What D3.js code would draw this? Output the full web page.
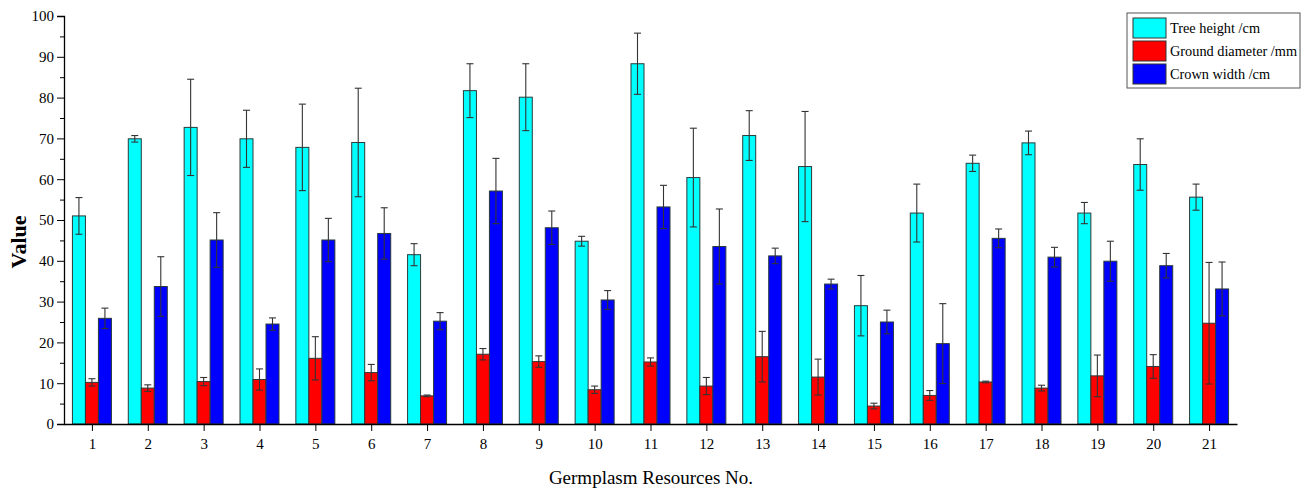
<!DOCTYPE html>
<html>
<head>
<meta charset="utf-8">
<script src="https://cdn.jsdelivr.net/npm/d3@7"></script>
<style>
  body { margin: 0; background: #fff; }
</style>
</head>
<body>
<script>
var width = 1314, height = 494;
var serif = "'Liberation Serif', 'Times New Roman', serif";

// germplasm numbers
var groups = d3.range(1, 22);
var seriesNames = ["Tree height /cm", "Ground diameter /mm", "Crown width /cm"];
var seriesColors = ["#00ffff", "#ff0000", "#0000ff"];

// means
var treeHeight = [51.0, 69.9, 72.7, 69.9, 67.8, 69.0, 41.5, 81.7, 80.1, 44.8, 88.3,
                  60.4, 70.7, 63.1, 29.0, 51.7, 63.9, 68.9, 51.7, 63.6, 55.6];
var groundDiameter = [10.2, 8.8, 10.4, 10.9, 16.1, 12.6, 6.9, 17.1, 15.3, 8.4, 15.2,
                      9.3, 16.5, 11.5, 4.4, 7.0, 10.3, 8.8, 11.8, 14.1, 24.7];
var crownWidth = [25.9, 33.7, 45.1, 24.5, 45.1, 46.7, 25.2, 57.1, 48.1, 30.4, 53.2,
                  43.5, 41.2, 34.3, 25.0, 19.7, 45.5, 40.9, 39.9, 38.8, 33.1];

// standard deviations (error bars)
var treeHeightSd = [4.5, 0.8, 11.8, 7.0, 10.6, 13.3, 2.7, 6.6, 8.2, 1.2, 7.5,
                    12.1, 6.1, 13.5, 7.4, 7.1, 2.0, 2.9, 2.6, 6.3, 3.2];
var groundDiameterSd = [0.9, 0.8, 1.0, 2.6, 5.3, 2.0, 0.2, 1.4, 1.4, 0.9, 1.0,
                        2.1, 6.2, 4.4, 0.7, 1.2, 0.2, 0.7, 5.1, 2.9, 14.9];
var crownWidthSd = [2.5, 7.3, 6.7, 1.5, 5.3, 6.3, 2.1, 8.0, 4.1, 2.3, 5.3,
                    9.2, 1.9, 1.2, 2.9, 9.8, 2.3, 2.4, 4.9, 3.0, 6.6];

var means = [treeHeight, groundDiameter, crownWidth];
var sds = [treeHeightSd, groundDiameterSd, crownWidthSd];

var svg = d3.select("body").append("svg")
    .attr("width", width)
    .attr("height", height);

var x = d3.scaleLinear().domain([0.5, 21.5]).range([64, 1237]);
var y = d3.scaleLinear().domain([0, 100]).range([424, 16]);

var barW = 13;

// bars + error bars
seriesNames.forEach(function(name, s) {
    var g = svg.append("g");
    var data = groups.map(function(k, i) { return { k: k, v: means[s][i], e: sds[s][i] }; });
    var off = (s - 1) * barW - barW / 2;

    g.selectAll("rect")
        .data(data)
        .enter().append("rect")
        .attr("x", function(d) { return x(d.k) + off; })
        .attr("y", function(d) { return y(d.v); })
        .attr("width", barW)
        .attr("height", function(d) { return y(0) - y(d.v); })
        .attr("fill", seriesColors[s])
        .attr("stroke", "#2a3a3a")
        .attr("stroke-width", 1);

    var eb = g.selectAll(".eb")
        .data(data)
        .enter().append("g")
        .attr("stroke", "#333")
        .attr("stroke-width", 1.1);
    eb.append("line")
        .attr("x1", function(d) { return x(d.k) + off + barW / 2; })
        .attr("x2", function(d) { return x(d.k) + off + barW / 2; })
        .attr("y1", function(d) { return y(d.v + d.e); })
        .attr("y2", function(d) { return y(d.v - d.e); });
    [1, -1].forEach(function(sign) {
        eb.append("line")
            .attr("x1", function(d) { return x(d.k) + off + barW / 2 - 3.5; })
            .attr("x2", function(d) { return x(d.k) + off + barW / 2 + 3.5; })
            .attr("y1", function(d) { return y(d.v + sign * d.e); })
            .attr("y2", function(d) { return y(d.v + sign * d.e); });
    });
});

// y axis
var yAxis = svg.append("g")
    .attr("transform", "translate(64,0)")
    .call(d3.axisLeft(y).tickValues(d3.range(0, 101, 10)).tickSize(7).tickPadding(3));
yAxis.selectAll("text")
    .style("font-family", serif).style("font-size", "15px").attr("fill", "#000");
yAxis.select(".domain").attr("stroke", "#000").attr("stroke-width", 1.3);
yAxis.selectAll(".tick line").attr("stroke", "#000");
svg.append("g")
    .attr("transform", "translate(64,0)")
    .call(d3.axisLeft(y).tickValues(d3.range(5, 100, 10)).tickSize(4).tickFormat(""))
    .call(function(g) { g.select(".domain").remove(); });

// x axis
var xAxis = svg.append("g")
    .attr("transform", "translate(0,424)")
    .call(d3.axisBottom(x).tickValues(groups).tickSize(7).tickPadding(7).tickSizeOuter(0));
xAxis.selectAll("text")
    .style("font-family", serif).style("font-size", "15px").attr("fill", "#000");
xAxis.select(".domain").attr("stroke", "#000").attr("stroke-width", 1.3);
xAxis.selectAll(".tick line").attr("stroke", "#000");

// axis titles
svg.append("text")
    .attr("transform", "translate(26,242) rotate(-90)")
    .attr("text-anchor", "middle")
    .style("font-family", serif)
    .style("font-size", "22px")
    .style("font-weight", "bold")
    .text("Value");

svg.append("text")
    .attr("x", 651)
    .attr("y", 484)
    .attr("text-anchor", "middle")
    .style("font-family", serif)
    .style("font-size", "19px")
    .text("Germplasm Resources No.");

// legend
var legend = svg.append("g").attr("transform", "translate(1127,13)");
legend.append("rect")
    .attr("width", 173).attr("height", 75)
    .attr("fill", "#fff").attr("stroke", "#555").attr("stroke-width", 1);
seriesNames.forEach(function(name, s) {
    legend.append("rect")
        .attr("x", 6).attr("y", 5 + s * 23)
        .attr("width", 33).attr("height", 20)
        .attr("fill", seriesColors[s]).attr("stroke", "#333");
    legend.append("text")
        .attr("x", 43).attr("y", 20 + s * 23)
        .style("font-family", serif)
        .style("font-size", "14.3px")
        .text(name);
});
</script>
</body>
</html>
